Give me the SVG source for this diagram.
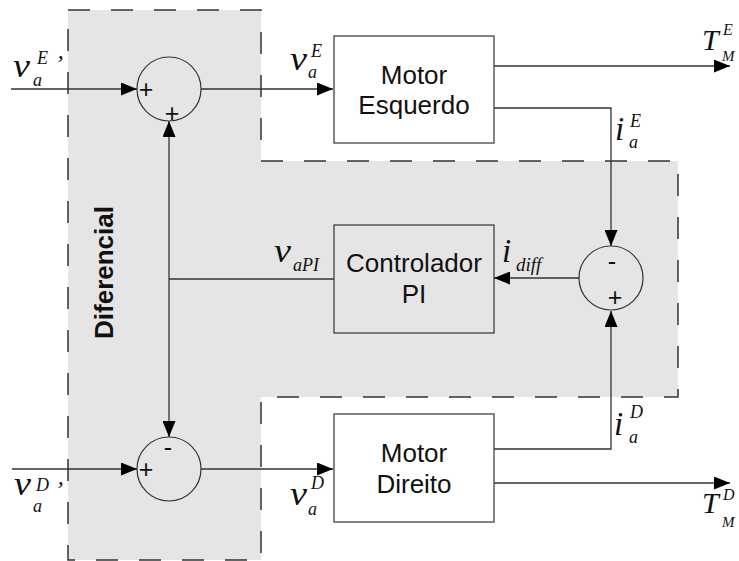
<svg xmlns="http://www.w3.org/2000/svg" width="739" height="561" viewBox="0 0 739 561">
<style>
.region{fill:#e5e5e5;stroke:#333;stroke-width:1.5;stroke-dasharray:22 21}
.box{stroke:#333;stroke-width:1.2}
.sum{fill:none;stroke:#333;stroke-width:1.2}
.wire{fill:none;stroke:#333;stroke-width:1.3}
.lbl{font-family:"Liberation Sans",Arial,sans-serif;font-size:26px;fill:#111;text-anchor:middle}
.sign{font-family:"Liberation Sans",Arial,sans-serif;font-size:25px;fill:#111;text-anchor:middle}
.m{font-family:"Liberation Serif","Times New Roman",serif;font-style:italic;fill:#111}
.big{font-size:33px}
.sub{font-size:18px}
.tt{font-size:30px}
</style>
<defs>
<marker id="arr" markerUnits="userSpaceOnUse" markerWidth="17" markerHeight="13" refX="16" refY="6.5" orient="auto">
<path d="M0,0 L16,6.5 L0,13 z" fill="#000"/>
</marker>
</defs>
<path id="diferencial-region" class="region" d="M68,10 H261 V161 H678 V397 H261 V560 H68 Z"/>
<text class="lbl" font-weight="bold" font-size="24" transform="translate(113,272.5) rotate(-90)">Diferencial</text>

<g id="connectors">
<path class="wire" d="M11,89 H137" marker-end="url(#arr)"/>
<path class="wire" d="M201,89 H333" marker-end="url(#arr)"/>
<path class="wire" d="M494,66 H730" marker-end="url(#arr)"/>
<path class="wire" d="M494,108 H611 V246" marker-end="url(#arr)"/>
<path class="wire" d="M579,278 H494" marker-end="url(#arr)"/>
<path class="wire" d="M334,279 H169"/>
<path class="wire" d="M169,279 V121" marker-end="url(#arr)"/>
<path class="wire" d="M169,279 V437" marker-end="url(#arr)"/>
<path class="wire" d="M12,469 H137" marker-end="url(#arr)"/>
<path class="wire" d="M201,469 H333" marker-end="url(#arr)"/>
<path class="wire" d="M494,449 H611 V311" marker-end="url(#arr)"/>
<path class="wire" d="M494,483 H730" marker-end="url(#arr)"/>
</g>

<g id="sum-esquerdo">
<circle class="sum" cx="169" cy="89" r="32"/>
<text class="sign" x="146" y="98">+</text>
<text class="sign" x="172" y="122">+</text>
</g>
<g id="sum-direito">
<circle class="sum" cx="169" cy="469" r="32"/>
<text class="sign" x="146" y="478">+</text>
<text class="sign" x="168" y="456">-</text>
</g>
<g id="sum-diff">
<circle class="sum" cx="611" cy="278" r="32"/>
<text class="sign" x="612" y="270">-</text>
<text class="sign" x="615" y="306">+</text>
</g>

<g id="motor-esquerdo">
<rect class="box" x="334" y="36" width="160" height="107" fill="#fff"/>
<text class="lbl" x="414" y="84">Motor</text>
<text class="lbl" x="414" y="114">Esquerdo</text>
</g>
<g id="controlador-pi">
<rect class="box" x="334" y="225" width="160" height="108" fill="none"/>
<text class="lbl" x="414" y="272">Controlador</text>
<text class="lbl" x="414" y="303">PI</text>
</g>
<g id="motor-direito">
<rect class="box" x="334" y="414" width="160" height="108" fill="#fff"/>
<text class="lbl" x="414" y="462">Motor</text>
<text class="lbl" x="414" y="493">Direito</text>
</g>

<g id="labels">
<text class="m big" x="13" y="77" textLength="17" lengthAdjust="spacingAndGlyphs">v</text>
<text class="m sub" x="33" y="86">a</text>
<text class="m sub" x="37" y="64">E</text>
<text class="m" font-size="24" x="55" y="71">’</text>

<text class="m big" x="290" y="70" textLength="17" lengthAdjust="spacingAndGlyphs">v</text>
<text class="m sub" x="308" y="78">a</text>
<text class="m sub" x="311" y="57">E</text>

<text class="m big" x="14" y="495" textLength="17" lengthAdjust="spacingAndGlyphs">v</text>
<text class="m sub" x="33" y="512">a</text>
<text class="m sub" x="36" y="491">D</text>
<text class="m" font-size="24" x="55" y="497">’</text>

<text class="m big" x="290" y="505" textLength="17" lengthAdjust="spacingAndGlyphs">v</text>
<text class="m sub" x="308" y="515">a</text>
<text class="m sub" x="311" y="489">D</text>

<text class="m tt" x="702" y="50">T</text>
<text class="m" font-size="16" x="723" y="35">E</text>
<text class="m" font-size="15" x="722" y="61">M</text>

<text class="m tt" x="702" y="513">T</text>
<text class="m" font-size="16" x="723" y="500">D</text>
<text class="m" font-size="15" x="722" y="527">M</text>

<text class="m big" x="615" y="140">i</text>
<text class="m sub" x="630" y="127">E</text>
<text class="m sub" x="629" y="148">a</text>

<text class="m big" x="614" y="435">i</text>
<text class="m sub" x="630" y="418">D</text>
<text class="m sub" x="629" y="443">a</text>

<text class="m big" x="502" y="262">i</text>
<text class="m" font-size="19" x="516" y="271">diff</text>

<text class="m big" x="274" y="262" textLength="17" lengthAdjust="spacingAndGlyphs">v</text>
<text class="m sub" x="293" y="271">aPI</text>
</g>
</svg>
